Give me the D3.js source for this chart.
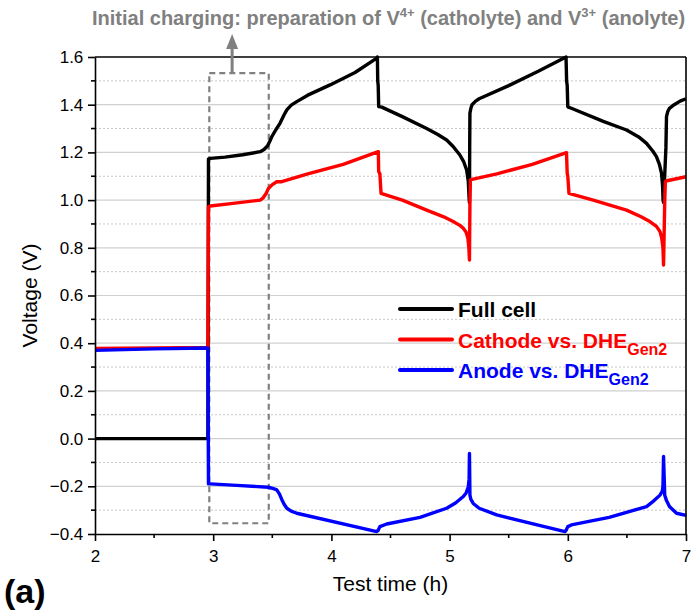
<!DOCTYPE html>
<html>
<head>
<meta charset="utf-8">
<script src="https://cdn.jsdelivr.net/npm/d3@7"></script>
<style>
  body { margin: 0; background: #fff; }
  text { font-family: Arial, "Liberation Sans", sans-serif; }
</style>
</head>
<body>
<svg id="chart"></svg>
<script>
// ---- data (time in h, voltage in V) ----
var fullTime = [2.0, 2.955, 2.96, 2.975, 3.1, 3.25, 3.398, 3.43, 3.459, 3.48, 3.496, 3.53, 3.565, 3.6, 3.623, 3.66, 3.707, 3.8, 3.989, 4.2, 4.384,
  4.389, 4.392, 4.396, 4.4, 4.426, 4.6, 4.806, 4.9, 4.975, 5.03, 5.087, 5.12, 5.144, 5.158, 5.166,
  5.168, 5.17, 5.172, 5.18, 5.19, 5.22, 5.25, 5.5, 5.75, 5.985,
  5.99, 5.995, 6.0, 6.005, 6.03, 6.3, 6.497, 6.6, 6.666, 6.72, 6.75, 6.775, 6.793, 6.802, 6.806,
  6.81, 6.83, 6.835, 6.845, 6.86, 6.9, 6.95, 7.0];
var fullVolt = [0.0, 0.0, 1.172, 1.175, 1.18, 1.19, 1.203, 1.212, 1.227, 1.248, 1.266, 1.295, 1.322, 1.358, 1.378, 1.398, 1.413, 1.44, 1.483, 1.535, 1.595,
  1.6, 1.5, 1.48, 1.392, 1.39, 1.35, 1.30, 1.275, 1.252, 1.225, 1.189, 1.16, 1.126, 1.08, 1.0,
  0.99, 1.22, 1.365, 1.385, 1.40, 1.415, 1.425, 1.48, 1.54, 1.6,
  1.5, 1.48, 1.392, 1.39, 1.385, 1.33, 1.294, 1.265, 1.238, 1.205, 1.182, 1.15, 1.112, 1.06, 1.0,
  0.99, 1.22, 1.35, 1.37, 1.385, 1.40, 1.415, 1.425];

var cathodeTime = [2.0, 2.5, 2.955, 2.96, 2.975, 3.15, 3.398, 3.42, 3.45, 3.467, 3.5, 3.538, 3.58, 3.8, 4.1, 4.397,
  4.4, 4.41, 4.42, 4.6, 4.806, 4.95, 5.03, 5.09, 5.116, 5.14, 5.155, 5.163, 5.168,
  5.172, 5.176, 5.18, 5.4, 5.7, 5.989,
  5.995, 6.0, 6.01, 6.215, 6.497, 6.62, 6.694, 6.75, 6.78, 6.795, 6.805, 6.81,
  6.82, 6.825, 6.83, 7.0];
var cathodeVolt = [0.378, 0.38, 0.382, 0.972, 0.975, 0.985, 1.0, 1.008, 1.03, 1.049, 1.065, 1.077, 1.077, 1.11, 1.15, 1.203,
  1.12, 1.11, 1.028, 1.0, 0.958, 0.93, 0.91, 0.893, 0.882, 0.865, 0.84, 0.80, 0.749,
  0.987, 1.084, 1.086, 1.11, 1.15, 1.199,
  1.112, 1.10, 1.028, 1.0, 0.958, 0.93, 0.91, 0.89, 0.868, 0.84, 0.80, 0.728,
  0.99, 1.077, 1.08, 1.098];

var anodeTime = [2.0, 2.5, 2.955, 2.96, 2.975, 3.2, 3.467, 3.51, 3.538, 3.56, 3.58, 3.6, 3.623, 3.66, 3.707, 4.384,
  4.395, 4.41, 4.468, 4.75, 4.975, 5.05, 5.116, 5.14, 5.158, 5.165,
  5.168, 5.172, 5.18, 5.2, 5.25, 5.398, 5.976,
  5.985, 6.0, 6.03, 6.35, 6.666, 6.73, 6.78, 6.8, 6.805,
  6.81, 6.82, 6.835, 6.86, 6.92, 7.0];
var anodeVolt = [0.37, 0.376, 0.38, -0.19, -0.19, -0.196, -0.204, -0.21, -0.215, -0.232, -0.255, -0.275, -0.292, -0.304, -0.313, -0.39,
  -0.385, -0.369, -0.358, -0.33, -0.292, -0.27, -0.243, -0.228, -0.202, -0.17,
  -0.062, -0.237, -0.255, -0.272, -0.292, -0.32, -0.39,
  -0.385, -0.369, -0.362, -0.33, -0.285, -0.26, -0.237, -0.22, -0.20,
  -0.075, -0.237, -0.26, -0.285, -0.313, -0.322];

var xTicks = [2, 3, 4, 5, 6, 7];
var yTicks = [-0.4, -0.2, 0.0, 0.2, 0.4, 0.6, 0.8, 1.0, 1.2, 1.4, 1.6];

var series = [
  {name: "Full cell", sub: "", color: "#000000", t: fullTime, v: fullVolt},
  {name: "Cathode vs. DHE", sub: "Gen2", color: "#ff0000", t: cathodeTime, v: cathodeVolt},
  {name: "Anode vs. DHE", sub: "Gen2", color: "#0000ff", t: anodeTime, v: anodeVolt}
];

var width = 696, height = 613;
var margin = {left: 95, right: 10, top: 57, bottom: 79};

var svg = d3.select("#chart").attr("width", width).attr("height", height);

var x = d3.scaleLinear().domain([2, 7]).range([margin.left, width - margin.right]);
var y = d3.scaleLinear().domain([-0.4, 1.6]).range([height - margin.bottom, margin.top]);

// grid: solid at major, dotted at minor
var minorY = d3.range(-0.3, 1.6, 0.2);
svg.append("g").selectAll("line")
  .data(yTicks.slice(1, -1))
  .enter().append("line")
  .attr("x1", x(2)).attr("x2", x(7))
  .attr("y1", function(d) { return y(d); }).attr("y2", function(d) { return y(d); })
  .attr("stroke", "#d0d0d0").attr("stroke-width", 1.2);
svg.append("g").selectAll("line")
  .data(minorY)
  .enter().append("line")
  .attr("x1", x(2)).attr("x2", x(7))
  .attr("y1", function(d) { return y(d); }).attr("y2", function(d) { return y(d); })
  .attr("stroke", "#c8c8c8").attr("stroke-width", 1).attr("stroke-dasharray", "2,2");

// dashed box marking the initial charging
svg.append("rect")
  .attr("x", x(2.967)).attr("y", y(1.532))
  .attr("width", x(3.47) - x(2.967)).attr("height", y(-0.355) - y(1.532))
  .attr("fill", "none").attr("stroke", "#808080").attr("stroke-width", 2.2)
  .attr("stroke-dasharray", "6,4");

// curves
var line = d3.line()
  .x(function(d) { return x(d[0]); })
  .y(function(d) { return y(d[1]); });

series.forEach(function(s) {
  var pts = s.t.map(function(t, i) { return [t, s.v[i]]; });
  svg.append("path")
    .attr("d", line(pts))
    .attr("fill", "none")
    .attr("stroke", s.color)
    .attr("stroke-width", 3.4)
    .attr("stroke-linejoin", "round");
});

// axes
var xAxis = d3.axisBottom(x).tickValues(xTicks).tickFormat(d3.format("d")).tickSize(7).tickSizeOuter(0);
var yAxis = d3.axisLeft(y).tickValues(yTicks).tickFormat(d3.format(".1f")).tickSize(7).tickSizeOuter(0);

var gx = svg.append("g").attr("transform", "translate(0," + y(-0.4) + ")").call(xAxis);
var gy = svg.append("g").attr("transform", "translate(" + x(2) + ",0)").call(yAxis);
[gx, gy].forEach(function(g) {
  g.selectAll("path, line").attr("stroke", "#000").attr("stroke-width", 1.6);
  g.selectAll("text").attr("font-size", 17).attr("fill", "#000")
    .style("font-family", "Arial, 'Liberation Sans', sans-serif");
});
gx.selectAll("text").attr("dy", "1.05em");
gy.selectAll("text").attr("dx", "-0.1em");

// minor ticks
svg.append("g").selectAll("line")
  .data([2.5, 3.5, 4.5, 5.5, 6.5])
  .enter().append("line")
  .attr("x1", function(d) { return x(d); }).attr("x2", function(d) { return x(d); })
  .attr("y1", y(-0.4)).attr("y2", y(-0.4) + 4)
  .attr("stroke", "#000").attr("stroke-width", 1.6);
svg.append("g").selectAll("line")
  .data(minorY)
  .enter().append("line")
  .attr("x1", x(2) - 4).attr("x2", x(2))
  .attr("y1", function(d) { return y(d); }).attr("y2", function(d) { return y(d); })
  .attr("stroke", "#000").attr("stroke-width", 1.6);

// top and right frame
svg.append("line").attr("x1", x(2)).attr("x2", x(7)).attr("y1", y(1.6)).attr("y2", y(1.6))
  .attr("stroke", "#000").attr("stroke-width", 1.6);
svg.append("line").attr("x1", x(7)).attr("x2", x(7)).attr("y1", y(1.6)).attr("y2", y(-0.4))
  .attr("stroke", "#000").attr("stroke-width", 1.6);

// axis titles
svg.append("text")
  .attr("x", (x(2) + x(7)) / 2).attr("y", 591)
  .attr("text-anchor", "middle").attr("font-size", 21)
  .text("Test time (h)");
svg.append("text")
  .attr("transform", "translate(37," + ((y(-0.4) + y(1.6)) / 2) + ") rotate(-90)")
  .attr("text-anchor", "middle").attr("font-size", 21)
  .text("Voltage (V)");

svg.append("text")
  .attr("x", 4).attr("y", 603)
  .attr("font-size", 34).attr("font-weight", "bold")
  .text("(a)");

// legend
var legend = svg.append("g").attr("transform", "translate(400,309)");
series.forEach(function(s, i) {
  var row = legend.append("g").attr("transform", "translate(0," + (i * 30.5) + ")");
  row.append("line").attr("x1", 0).attr("x2", 52)
    .attr("stroke", s.color).attr("stroke-width", 4).attr("stroke-linecap", "round");
  var t = row.append("text").attr("x", 58).attr("y", 8)
    .attr("font-size", 21).attr("font-weight", "bold").attr("fill", s.color)
    .text(s.name);
  if (s.sub) {
    t.append("tspan").attr("font-size", 16).attr("dy", 7).text(s.sub);
  }
});

// title with arrow
var title = svg.append("text")
  .attr("x", 92).attr("y", 25)
  .attr("font-size", 20).attr("font-weight", "bold").attr("fill", "#808080");
title.append("tspan").text("Initial charging: preparation of V");
title.append("tspan").attr("font-size", 13).attr("dy", -8).text("4+");
title.append("tspan").attr("dy", 8).text(" (catholyte) and V");
title.append("tspan").attr("font-size", 13).attr("dy", -8).text("3+");
title.append("tspan").attr("dy", 8).text(" (anolyte)");

var ax = x(3.16);
svg.append("line").attr("x1", ax).attr("x2", ax).attr("y1", y(1.532)).attr("y2", 47)
  .attr("stroke", "#808080").attr("stroke-width", 3);
svg.append("path")
  .attr("d", "M" + (ax - 6) + ",49 L" + ax + ",34 L" + (ax + 6) + ",49 Z")
  .attr("fill", "#808080");
</script>
</body>
</html>
